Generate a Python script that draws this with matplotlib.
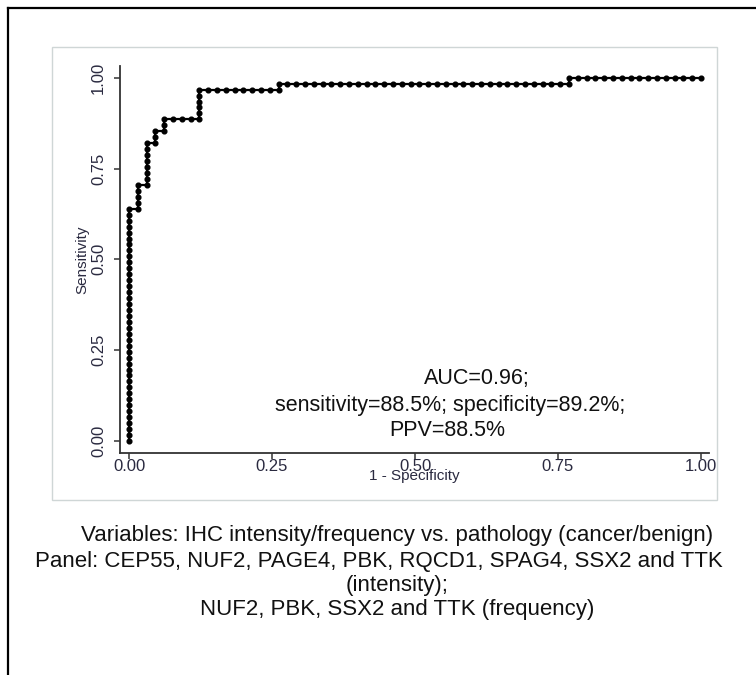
import matplotlib
matplotlib.use("Agg")
import matplotlib.pyplot as plt
import numpy as np
from matplotlib.patches import Rectangle
from matplotlib.lines import Line2D

plt.rcParams['font.family'] = ['Liberation Sans', 'DejaVu Sans']

# ---- data: ROC steps (counts) ----
n_pos = 61          # cancer cases
n_neg = 65          # benign cases
# cumulative true-positive count reached in each false-positive column (0..65)
tp_at_fp = [39, 43, 50, 52, 54, 54, 54, 54, 59, 59, 59, 59, 59, 59, 59, 59, 59,
            60, 60, 60, 60, 60, 60, 60, 60, 60, 60, 60, 60, 60, 60, 60, 60, 60,
            60, 60, 60, 60, 60, 60, 60, 60, 60, 60, 60, 60, 60, 60, 60, 60,
            61, 61, 61, 61, 61, 61, 61, 61, 61, 61, 61, 61, 61, 61, 61, 61]
x_ticks = [0.00, 0.25, 0.50, 0.75, 1.00]
y_ticks = [0.00, 0.25, 0.50, 0.75, 1.00]
x_label = "1 - Specificity"
y_label = "Sensitivity"
stats_lines = ["AUC=0.96;", "sensitivity=88.5%; specificity=89.2%;", "PPV=88.5%"]
caption_lines = ["Variables: IHC intensity/frequency vs. pathology (cancer/benign)",
                 "Panel: CEP55, NUF2, PAGE4, PBK, RQCD1, SPAG4, SSX2 and TTK",
                 "(intensity);",
                 "NUF2, PBK, SSX2 and TTK (frequency)"]

# walk through the ROC: one point per observation
fp_pts, tp_pts = [0], [0]
cur_tp = 0
for fp, tp_top in enumerate(tp_at_fp):
    if fp > 0:
        fp_pts.append(fp); tp_pts.append(cur_tp)
    while cur_tp < tp_top:
        cur_tp += 1
        fp_pts.append(fp); tp_pts.append(cur_tp)
fpr = np.array(fp_pts) / n_neg
tpr = np.array(tp_pts) / n_pos

W, H = 756, 675
fig = plt.figure(figsize=(W / 100, H / 100), dpi=100)

def fx(px):
    return px / W
def fy(py):
    return 1 - py / H

# outer black frame (top and left visible)
fig.add_artist(Line2D([fx(8), fx(8)], [fy(8), fy(675)], color='black', lw=1.6))
fig.add_artist(Line2D([fx(8), fx(756)], [fy(8), fy(8)], color='black', lw=1.6))
# light grey graph panel
fig.add_artist(Rectangle((fx(52), fy(500)), fx(717) - fx(52), fy(47) - fy(500),
                         transform=fig.transFigure, fill=False,
                         edgecolor='#cfd6d6', lw=1.0))

ax = fig.add_axes([fx(120), fy(453), fx(709) - fx(120), fy(66) - fy(453)])
ax.set_facecolor('none')
ax.plot(fpr, tpr, color='black', lw=1.6, marker='o', markersize=3.4,
        markerfacecolor='black', markeredgecolor='black', clip_on=False)
ax.set_xlim(-9 / 572, 1 + 8 / 572)
ax.set_ylim(-12 / 363.3, 1 + 11.7 / 363.3)
for s in ['top', 'right']:
    ax.spines[s].set_visible(False)
for s in ['left', 'bottom']:
    ax.spines[s].set_color('#333333')
    ax.spines[s].set_linewidth(1.3)
ax.set_xticks(x_ticks)
ax.set_yticks(y_ticks)
ax.set_xticklabels([f"{v:.2f}" for v in x_ticks])
ax.set_yticklabels([f"{v:.2f}" for v in y_ticks], rotation=90, va='center')
ax.tick_params(axis='both', direction='out', length=4, width=1.1,
               color='#333333', labelsize=12, labelcolor='#2a2a40')
ax.tick_params(axis='x', pad=0.5)
ax.tick_params(axis='y', pad=6)
ax.set_xlabel(x_label, fontsize=11, color='#2a2a40', labelpad=-4)
ax.set_ylabel(y_label, fontsize=11, color='#2a2a40', labelpad=1)

# statistics annotation
stat_pos = [(477, 378), (450, 405), (447, 431)]
for t, (px, py) in zip(stats_lines, stat_pos):
    fig.text(fx(px), fy(py), t, ha='center', va='center', fontsize=15.5, color='#111111')

# caption
cap_pos = [(397, 536), (379, 561), (397, 585), (397, 609)]
for t, (px, py) in zip(caption_lines, cap_pos):
    fig.text(fx(px), fy(py), t, ha='center', va='center', fontsize=16, color='#111111')

fig.savefig("out.png", dpi=100)
